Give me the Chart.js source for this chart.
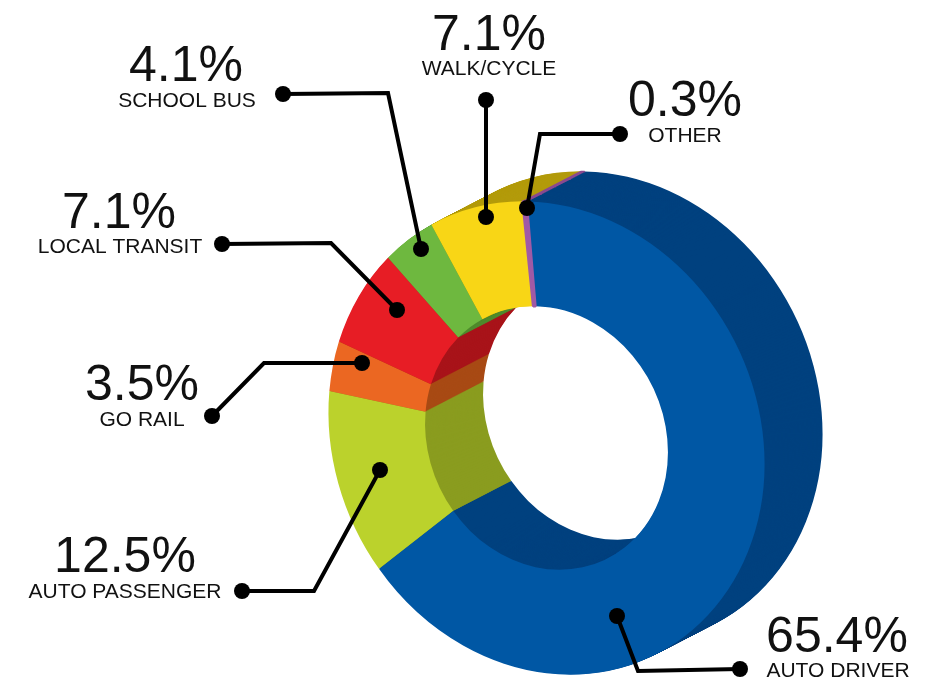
<!DOCTYPE html>
<html>
<head>
<meta charset="utf-8">
<style>
html, body { margin: 0; padding: 0; background: #fff; }
canvas { display: block; }
</style>
<script src="https://cdn.jsdelivr.net/npm/chart.js@4"></script>
</head>
<body>
<canvas id="doughnut" width="936" height="679"></canvas>
<script>
var categories = ['AUTO DRIVER', 'AUTO PASSENGER', 'GO RAIL', 'LOCAL TRANSIT', 'SCHOOL BUS', 'WALK/CYCLE', 'OTHER'];
var shares = [65.4, 12.5, 3.5, 7.1, 4.1, 7.1, 0.3];
var faceColors = ['#0057A4', '#BBD22C', '#EB6722', '#E71D25', '#6EB83F', '#F8D616', '#A05AA5'];
var wallColors = ['#00417F', '#8A9C1F', '#A84A14', '#A81319', '#4F8A2C', '#B39B0B', '#8A4A90'];
// the OTHER sliver is too thin to see without an outline
var faceOutline = [0, 0, 0, 0, 0, 0, 2.5];
var wallOutline = [0, 0, 0, 0, 0, 0, 1];

// where each label sits, and the leader line from the label to its slice
var labelSpots = [[837, 652, 838, 677], [125, 572, 125, 598], [142, 400, 142, 426], [119, 228, 120, 253], [186, 81, 187, 107], [489, 50, 489, 75], [685, 116, 685, 142]];
var leaders = [
    [[617, 616], [638, 671], [740, 669]],
    [[380, 470], [314, 591], [242, 591]],
    [[362, 363], [264, 363], [212, 416]],
    [[397, 310], [331, 243], [222, 244]],
    [[421, 249], [388, 93], [283, 94]],
    [[486, 217], [486, 100]],
    [[527, 208], [540, 134], [620, 134]]
];

var squash = 238 / 218; // the ring is a bit taller than wide
var lean = 0.1;         // and leans, bottom to the right
var depthX = 58, depthY = -30, depthSteps = 60;

function ringTransform(ctx, arc, dx, dy) {
    ctx.translate(arc.x + dx, arc.y + dy);
    ctx.transform(1, 0, lean * squash, squash, 0, 0);
    ctx.translate(-arc.x, -arc.y);
}

var ring3d = {
    id: 'ring3d',
    beforeDatasetsDraw: function (chart) {
        var ctx = chart.ctx;
        var arcs = chart.getDatasetMeta(0).data;
        for (var k = depthSteps; k >= 1; k--) {
            ctx.save();
            ringTransform(ctx, arcs[0], depthX * k / depthSteps, depthY * k / depthSteps);
            arcs.forEach(function (arc, i) {
                var wall = Object.create(arc);
                wall.options = Object.assign({}, arc.options, {
                    backgroundColor: wallColors[i],
                    borderColor: wallColors[i],
                    borderWidth: wallOutline[i]
                });
                wall.draw(ctx);
            });
            ctx.restore();
        }
    },
    beforeDatasetDraw: function (chart) {
        chart.ctx.save();
        ringTransform(chart.ctx, chart.getDatasetMeta(0).data[0], 0, 0);
    },
    afterDatasetDraw: function (chart) {
        chart.ctx.restore();
    },
    afterDraw: function (chart) {
        var ctx = chart.ctx;
        ctx.save();
        ctx.strokeStyle = '#000';
        ctx.fillStyle = '#000';
        ctx.lineWidth = 4;
        ctx.lineJoin = 'miter';
        leaders.forEach(function (pts) {
            ctx.beginPath();
            pts.forEach(function (p, j) {
                if (j === 0) ctx.moveTo(p[0], p[1]);
                else ctx.lineTo(p[0], p[1]);
            });
            ctx.stroke();
            [pts[0], pts[pts.length - 1]].forEach(function (p) {
                ctx.beginPath();
                ctx.arc(p[0], p[1], 8, 0, Math.PI * 2);
                ctx.fill();
            });
        });
        ctx.fillStyle = '#111';
        ctx.textAlign = 'center';
        ctx.textBaseline = 'alphabetic';
        categories.forEach(function (name, i) {
            var s = labelSpots[i];
            ctx.font = '50px "Liberation Sans"';
            ctx.fillText(shares[i].toFixed(1) + '%', s[0], s[1]);
            ctx.font = '21px "Liberation Sans"';
            ctx.fillText(name, s[2], s[3]);
        });
        ctx.restore();
    }
};

var ctx = document.getElementById('doughnut').getContext('2d');
var myChart = new Chart(ctx, {
    type: 'doughnut',
    data: {
        labels: categories,
        datasets: [{
            data: shares,
            backgroundColor: faceColors,
            borderColor: faceColors,
            borderWidth: faceOutline,
            clip: false
        }]
    },
    options: {
        responsive: false,
        animation: false,
        rotation: 1,
        cutout: '55.7%',
        layout: { padding: { left: 328.5, right: 171.5, top: 220, bottom: 23 } },
        plugins: { legend: { display: false }, tooltip: { enabled: false } }
    },
    plugins: [ring3d]
});
</script>
</body>
</html>
